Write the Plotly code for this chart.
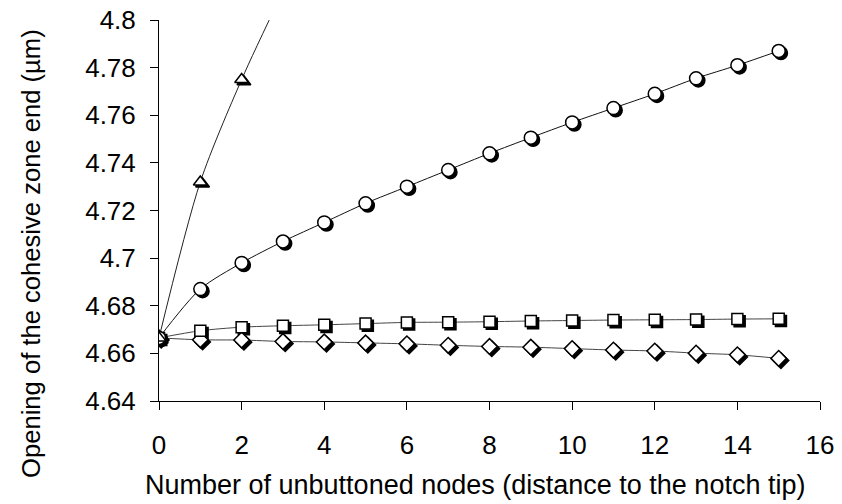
import plotly.graph_objects as go

# ── DATA ─────────────────────────────────────────────────────────────────────
nodes = list(range(16))

circles = [4.6665, 4.687, 4.698, 4.707, 4.715, 4.723, 4.730, 4.737,
           4.744, 4.7506, 4.757, 4.763, 4.769, 4.7755, 4.781, 4.787]
squares = [4.6665, 4.6695, 4.671, 4.6716, 4.672, 4.6725, 4.673, 4.6731,
           4.6733, 4.6736, 4.6738, 4.674, 4.6741, 4.6742, 4.6744, 4.6745]
diamonds = [4.6665, 4.6657, 4.6656, 4.6650, 4.6648, 4.6644, 4.6640, 4.6634,
            4.6629, 4.6626, 4.6620, 4.6614, 4.6610, 4.6601, 4.6594, 4.6579]

tri_nodes = [0, 1, 2, 3]
triangles = [4.6665, 4.732, 4.775, 4.812]

y_ticks = [4.64, 4.66, 4.68, 4.70, 4.72, 4.74, 4.76, 4.78, 4.80]
y_ticklabels = ["4.64", "4.66", "4.68", "4.7", "4.72", "4.74", "4.76", "4.78", "4.8"]
x_ticks = [0, 2, 4, 6, 8, 10, 12, 14, 16]

FONT = "Arial, Liberation Sans, sans-serif"

# (x, y, simbolo, tamanho, cor da linha)
series = [
    (nodes, diamonds, "diamond", 12, "#444444"),
    (nodes, squares, "square", 11, "#444444"),
    (nodes, circles, "circle", 13, "#111111"),
    (tri_nodes, triangles, "triangle-up", 12, "#222222"),
]

# deslocamento da sombra (~2 px) em unidades de dados
DX, DY = 0.055, 0.0009

fig = go.Figure()

# linhas primeiro
for xs, ys, sym, size, lc in series:
    fig.add_trace(go.Scatter(
        x=xs, y=ys, mode="lines",
        line=dict(color=lc, width=1, shape="spline", smoothing=0.8),
        showlegend=False, hoverinfo="skip",
    ))

# sombras pretas
for xs, ys, sym, size, lc in series:
    fig.add_trace(go.Scatter(
        x=[v + DX for v in xs], y=[v - DY for v in ys], mode="markers",
        marker=dict(symbol=sym, size=size, color="black",
                    line=dict(color="black", width=1.5)),
        showlegend=False, hoverinfo="skip",
    ))

# marcadores brancos
for xs, ys, sym, size, lc in series:
    fig.add_trace(go.Scatter(
        x=xs, y=ys, mode="markers",
        marker=dict(symbol=sym, size=size, color="white",
                    line=dict(color="black", width=1.5)),
        showlegend=False,
    ))

fig.update_layout(
    width=842, height=504,
    margin=dict(l=159, r=22, t=20, b=103, autoexpand=False),
    plot_bgcolor="white",
    paper_bgcolor="white",
    font=dict(family=FONT, size=26, color="black"),
    xaxis=dict(
        range=[0, 16], tickvals=x_ticks,
        showline=True, linecolor="black", linewidth=1,
        ticks="outside", ticklen=8, tickcolor="black",
        showgrid=False, zeroline=False, automargin=False,
        ticklabelstandoff=13, ticklabeloverflow="allow",
        tickfont=dict(size=26),
    ),
    yaxis=dict(
        range=[4.64, 4.8], tickvals=y_ticks, ticktext=y_ticklabels,
        showline=True, linecolor="black", linewidth=1,
        ticks="outside", ticklen=8, tickcolor="black",
        showgrid=False, zeroline=False, automargin=False,
        ticklabelstandoff=9, ticklabeloverflow="allow",
        tickfont=dict(size=26),
    ),
    annotations=[
        dict(text="Number of unbuttoned nodes (distance to the notch tip)",
             xref="paper", yref="paper", x=0.478, y=-0.2205,
             xanchor="center", yanchor="middle", showarrow=False,
             font=dict(size=27)),
        dict(text="Opening of the cohesive zone end (µm)",
             xref="paper", yref="paper", x=-0.1936, y=0.386,
             xanchor="center", yanchor="middle", textangle=-90,
             showarrow=False, font=dict(size=25.6)),
    ],
)

# tira a margem padrão de 8 px do body para a figura ocupar a janela toda
fig.write_html("out.html", config={"displayModeBar": False},
               post_script="document.body.style.margin='0';")
